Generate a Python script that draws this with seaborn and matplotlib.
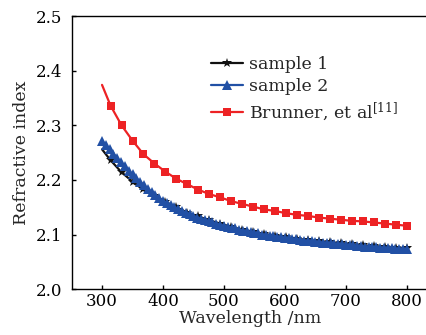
import numpy as np
import pandas as pd
import matplotlib
matplotlib.use("Agg")
import matplotlib.pyplot as plt
import seaborn as sns

# ---- data ----
wl_grid18 = [300, 314, 332, 350, 368, 386, 404, 422, 440, 458, 476, 494, 512, 530,
             548, 566, 584, 602, 620, 638, 656, 674, 692, 710, 728, 746, 764, 782, 800]

sample1 = [2.256, 2.236, 2.214, 2.197, 2.183, 2.171, 2.160, 2.150, 2.140, 2.133,
           2.126, 2.120, 2.114, 2.109, 2.105, 2.101, 2.098, 2.095, 2.092, 2.090,
           2.088, 2.086, 2.084, 2.082, 2.080, 2.079, 2.077, 2.076, 2.075]

brunner = [2.374, 2.336, 2.300, 2.272, 2.247, 2.230, 2.215, 2.202, 2.192, 2.182,
           2.174, 2.168, 2.161, 2.156, 2.151, 2.146, 2.143, 2.139, 2.136, 2.134,
           2.131, 2.129, 2.127, 2.125, 2.124, 2.122, 2.120, 2.118, 2.116]

wl_sample2 = [300, 306.25, 312.5, 318.75, 325, 331.25, 337.5, 343.75, 350, 356.25,
              362.5, 368.75, 375, 381.25, 387.5, 393.75, 400, 406.25, 412.5, 418.75,
              425, 431.25, 437.5, 443.75, 450, 456.25, 462.5, 468.75, 475, 481.25,
              487.5, 493.75, 500, 506.25, 512.5, 518.75, 525, 531.25, 537.5, 543.75,
              550, 556.25, 562.5, 568.75, 575, 581.25, 587.5, 593.75, 600, 606.25,
              612.5, 618.75, 625, 631.25, 637.5, 643.75, 650, 656.25, 662.5, 668.75,
              675, 681.25, 687.5, 693.75, 700, 706.25, 712.5, 718.75, 725, 731.25,
              737.5, 743.75, 750, 756.25, 762.5, 768.75, 775, 781.25, 787.5, 793.75, 800]

sample2 = [2.272, 2.263, 2.256, 2.248, 2.240, 2.232, 2.225, 2.217, 2.210, 2.203,
           2.197, 2.190, 2.184, 2.178, 2.173, 2.167, 2.162, 2.158, 2.154, 2.150,
           2.146, 2.143, 2.140, 2.137, 2.134, 2.131, 2.129, 2.126, 2.124, 2.122,
           2.120, 2.118, 2.116, 2.114, 2.112, 2.111, 2.109, 2.107, 2.106, 2.104,
           2.103, 2.102, 2.100, 2.099, 2.098, 2.097, 2.096, 2.095, 2.094, 2.093,
           2.092, 2.091, 2.090, 2.089, 2.088, 2.088, 2.087, 2.086, 2.085, 2.085,
           2.084, 2.083, 2.082, 2.082, 2.081, 2.081, 2.080, 2.079, 2.079, 2.078,
           2.078, 2.077, 2.077, 2.076, 2.076, 2.075, 2.075, 2.074, 2.074, 2.073, 2.073]

x_ticks = [300, 400, 500, 600, 700, 800]
y_ticks = [2.0, 2.1, 2.2, 2.3, 2.4, 2.5]
labels = ["sample 1", "sample 2", "Brunner, et al$^{\\rm{[11]}}$"]
colors = ["#111111", "#2150A5", "#ED2224"]

# ---- style ----
sns.set_theme(style="ticks")
plt.rcParams["font.family"] = ["DejaVu Serif"]
plt.rcParams["mathtext.fontset"] = "dejavuserif"

fig = plt.figure(figsize=(4.27, 3.35), dpi=100)
ax = fig.add_axes([0.169, 0.137, 0.835, 0.815])

sns.lineplot(x=wl_grid18, y=sample1, ax=ax, color=colors[0], marker="*",
             markersize=7, markeredgewidth=0, linewidth=1.6, label=labels[0],
             markevery=slice(1, None), sort=False, zorder=2)
sns.lineplot(x=wl_sample2, y=sample2, ax=ax, color=colors[1], marker="^",
             markersize=6.5, markeredgewidth=0, linewidth=1.6, label=labels[1],
             sort=False, zorder=3)
sns.lineplot(x=wl_grid18, y=brunner, ax=ax, color=colors[2], marker="s",
             markersize=5.2, markeredgewidth=0, linewidth=1.6, label=labels[2],
             markevery=slice(1, None), sort=False, zorder=4)

ax.set_xlim(251, 836)
ax.set_ylim(2.0, 2.5)
ax.set_xticks(x_ticks)
ax.set_yticks(y_ticks)
ax.set_yticklabels([f"{v:.1f}" for v in y_ticks])
ax.tick_params(axis="both", direction="in", length=3, width=1, labelsize=12,
               colors="black")
ax.tick_params(axis="y", pad=7)
ax.tick_params(axis="x", pad=3)
for s in ["left", "bottom", "top"]:
    ax.spines[s].set_color("black")
    ax.spines[s].set_linewidth(1)
ax.spines["right"].set_visible(False)

ax.set_xlabel("Wavelength /nm", fontsize=12.5, labelpad=0)
ax.set_ylabel("Refractive index", fontsize=12.5, labelpad=4)

leg = ax.legend(loc="upper left", bbox_to_anchor=(0.37, 0.88), frameon=False,
                fontsize=12.5, handlelength=1.85, handletextpad=0.35,
                labelspacing=0.3, borderaxespad=0)

fig.savefig("out.png", dpi=100)
